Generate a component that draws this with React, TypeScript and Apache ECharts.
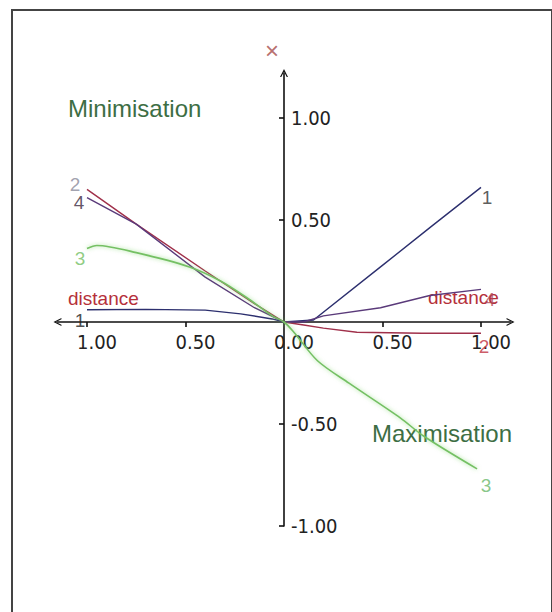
import React, { useEffect, useRef } from 'react';
import * as echarts from 'echarts';

// axis values
const xTickValues = [-1, -0.5, 0.5, 1];
const xLabelValues = [-1, -0.5, 0, 0.5, 1];
const yTickValues = [-1, -0.5, 0.5, 1];

// series (x from -1 "minimisation" side to +1 "maximisation" side)
const series1 = [[-1, 0.06], [-0.7, 0.062], [-0.4, 0.058], [-0.22, 0.04], [-0.06, 0.015], [0, 0], [0.15, 0.01], [0.49, 0.27], [0.75, 0.47], [1, 0.66]];
const series2 = [[-1, 0.65], [-0.75, 0.48], [-0.4, 0.25], [-0.15, 0.09], [0, 0], [0.1, -0.015], [0.2, -0.03], [0.37, -0.05], [0.7, -0.055], [1, -0.055]];
const series3 = [[-1, 0.36], [-0.95, 0.375], [-0.75, 0.34], [-0.48, 0.27], [-0.32, 0.2], [-0.19, 0.12], [-0.06, 0.03], [0, 0], [0.05, -0.05], [0.17, -0.19], [0.33, -0.3], [0.59, -0.47], [0.71, -0.56], [0.98, -0.72]];
const series4 = [[-1, 0.61], [-0.75, 0.48], [-0.4, 0.22], [-0.15, 0.07], [0, 0], [0.1, 0], [0.2, 0.03], [0.49, 0.07], [0.74, 0.13], [1, 0.16]];
const seriesNames = ['1', '2', '3', '4'];
const distanceText = 'distance';
const regionTexts = ['Minimisation', 'Maximisation'];
const markerText = '×';

const X_MIN = -1.15, X_MAX = 1.15, Y_MIN = -1, Y_MAX = 1.22;
const OX = 284, OY = 322, UX = 197, UY = 204;

const numFont = "'Liberation Sans Narrow', 'DejaVu Sans Condensed', 'Liberation Sans', Arial, sans-serif";
const txtFont = "'Liberation Sans', Arial, sans-serif";
const chevron = 'path://M0,10 L5,0 L10,10 L8.4,10 L5,3.2 L1.6,10 Z';

export default function App() {
  const ref = useRef<HTMLDivElement>(null);
  useEffect(() => {
    const chart = echarts.init(ref.current!, null, { renderer: 'svg' });
    const all = [series1, series2, series3, series4];
    const lineColors = ['#2c2f6e', '#a0304a', '#74c064', '#5a3a7a'];
    const leftLabelColors = ['#222222', '#8a8a9a', '#74c064', '#3a2a40'];
    const rightLabelColors = ['#333333', '#c03040', '#6ab86a', '#b04858'];
    const leftOffsets = [[-7, 11], [-12, -5], [-7, 10], [-8, 5]];
    const rightOffsets = [[6, 10], [3, 13], [9, 17], [9, 10]];

    const labelData: any[] = [];
    all.forEach((s, i) => {
      labelData.push({
        value: s[0],
        label: { formatter: seriesNames[i], color: leftLabelColors[i], offset: leftOffsets[i] },
      });
      labelData.push({
        value: s[s.length - 1],
        label: { formatter: seriesNames[i], color: rightLabelColors[i], offset: rightOffsets[i] },
      });
    });

    const axisLineStyle = { color: '#111', width: 1.6 };
    const gridLeft = OX + X_MIN * UX;
    const gridTop = OY - Y_MAX * UY;
    const gridHeight = (Y_MAX - Y_MIN) * UY;
    // move axes from the grid's edges onto the origin
    const xOffset = -(gridTop + gridHeight - OY);
    const yOffset = -(OX - gridLeft);

    const option: any = {
      animation: false,
      backgroundColor: '#ffffff',
      grid: {
        left: gridLeft,
        top: gridTop,
        width: (X_MAX - X_MIN) * UX,
        height: gridHeight,
        containLabel: false,
      },
      xAxis: {
        type: 'value', min: X_MIN, max: X_MAX, position: 'bottom', offset: xOffset,
        splitLine: { show: false },
        axisLine: { onZero: false, lineStyle: axisLineStyle, symbol: [chevron, chevron], symbolSize: [11, 8] },
        axisTick: { show: true, inside: false, length: 5, lineStyle: axisLineStyle, customValues: xTickValues },
        axisLabel: {
          show: true, customValues: xLabelValues, margin: 10,
          formatter: (v: number) => Math.abs(v).toFixed(2),
          color: '#222', fontSize: 20, fontFamily: numFont, padding: [0, 0, 0, 20],
        },
      },
      yAxis: {
        type: 'value', min: Y_MIN, max: Y_MAX, position: 'left', offset: yOffset,
        splitLine: { show: false },
        axisLine: { onZero: false, lineStyle: axisLineStyle, symbol: ['none', chevron], symbolSize: [11, 8] },
        axisTick: { show: true, inside: false, length: 5, lineStyle: axisLineStyle, customValues: yTickValues },
        axisLabel: {
          show: true, inside: true, margin: 7, customValues: yTickValues,
          formatter: (v: number) => v.toFixed(2),
          color: '#222', fontSize: 20, fontFamily: numFont,
        },
      },
      series: [
        ...all.map((s, i) => ({
          type: 'line',
          name: seriesNames[i],
          data: s,
          showSymbol: false,
          symbol: 'none',
          smooth: i === 2 ? 0.3 : false,
          lineStyle: i === 2
            ? { color: lineColors[i], width: 1.6, shadowColor: 'rgba(120,210,100,0.7)', shadowBlur: 4 }
            : { color: lineColors[i], width: 1.4 },
          z: i === 2 ? 3 : 2,
        })),
        {
          type: 'scatter',
          data: labelData,
          symbolSize: 0,
          silent: true,
          label: { show: true, position: 'inside', fontSize: 19, fontFamily: txtFont },
          z: 5,
        },
      ],
      graphic: [
        {
          type: 'rect', shape: { x: 12, y: 10, width: 540, height: 700 },
          style: { fill: 'none', stroke: '#444', lineWidth: 2 }, silent: true,
        },
        {
          type: 'text', x: 272, y: 50,
          style: { text: markerText, fill: '#b87070', fontSize: 24, fontFamily: txtFont, align: 'center', verticalAlign: 'middle' },
        },
        {
          type: 'text', x: 68, y: 108,
          style: { text: regionTexts[0], fill: '#3d6e44', fontSize: 24, fontFamily: txtFont, align: 'left', verticalAlign: 'middle' },
        },
        {
          type: 'text', x: 372, y: 433,
          style: { text: regionTexts[1], fill: '#3d6e44', fontSize: 24, fontFamily: txtFont, align: 'left', verticalAlign: 'middle' },
        },
        {
          type: 'text', x: 68, y: 298,
          style: { text: distanceText, fill: '#b5303a', fontSize: 19, fontFamily: txtFont, align: 'left', verticalAlign: 'middle' },
        },
        {
          type: 'text', x: 428, y: 297,
          style: { text: distanceText, fill: '#b5303a', fontSize: 19, fontFamily: txtFont, align: 'left', verticalAlign: 'middle' },
        },
      ],
    };
    chart.setOption(option);
    return () => chart.dispose();
  }, []);
  return (
    <div
      ref={ref}
      style={{ position: 'fixed', left: 0, top: 0, width: 552, height: 612, background: '#fff' }}
    />
  );
}
